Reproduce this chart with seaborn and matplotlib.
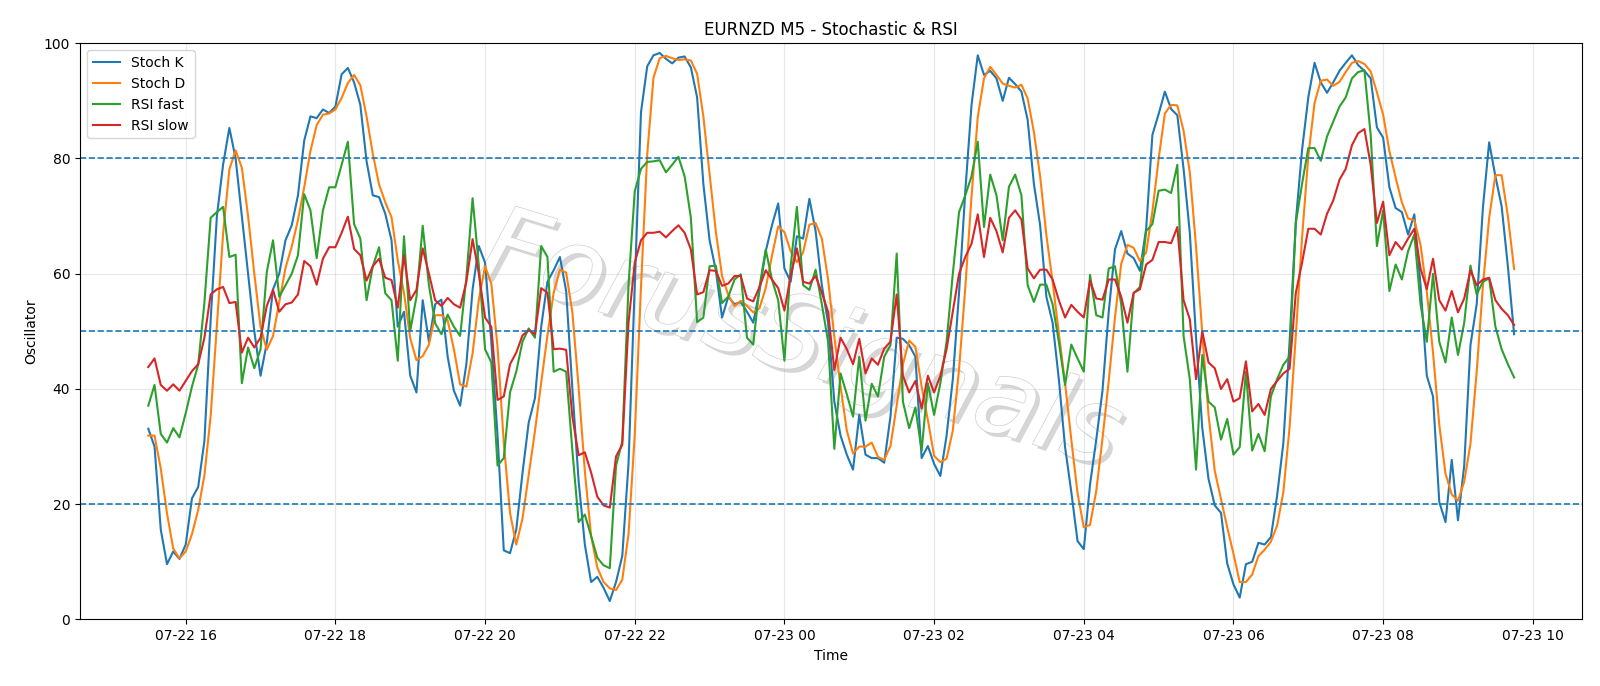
import pandas as pd
import matplotlib
matplotlib.use('Agg')
import matplotlib.pyplot as plt
import matplotlib.dates as mdates
import matplotlib.patheffects as pe
import seaborn as sns

# 5-minute bars, 07-22 15:30 .. 07-23 09:45
stoch_k = [33.1, 30.0, 15.6, 9.6, 11.8, 10.5, 13.0, 21.0, 23.0, 31.0,
           52.0, 70.0, 79.0, 85.3, 80.0, 70.0, 60.0, 50.0, 42.3, 48.0,
           57.3, 60.0, 65.8, 68.4, 73.6, 83.1, 87.3, 87.0, 88.5, 87.9,
           89.0, 94.6, 95.7, 93.2, 89.3, 79.5, 73.6, 73.3, 70.4, 65.8,
           50.8, 53.4, 42.3, 39.4, 55.4, 48.2, 54.7, 55.5, 45.6, 39.7,
           37.1, 44.3, 57.3, 64.8, 61.9, 48.2, 31.9, 12.0, 11.5, 15.6,
           25.4, 34.2, 38.4, 50.8, 58.6, 60.6, 62.9, 57.0, 40.0, 24.0,
           13.0, 6.5, 7.4, 5.5, 3.2, 6.5, 11.0, 27.0, 58.0, 88.0,
           96.0, 97.9, 98.3, 97.3, 96.5, 97.5, 97.7, 95.8, 90.6, 75.6,
           65.8, 60.6, 52.4, 56.0, 54.7, 55.1, 53.4, 51.5, 57.0, 63.9,
           68.4, 72.2, 60.9, 58.6, 66.5, 66.1, 73.0, 67.4, 58.0, 51.5,
           37.8, 31.9, 28.6, 26.0, 35.5, 28.6, 28.0, 28.0, 27.2, 35.2,
           48.9, 48.7, 47.6, 45.6, 28.0, 30.1, 27.0, 24.9, 31.9, 41.7,
           56.7, 74.3, 89.3, 97.9, 94.5, 95.2, 93.9, 90.0, 94.0, 92.9,
           91.6, 86.7, 75.6, 68.4, 56.0, 51.5, 41.7, 29.9, 22.1, 13.6,
           12.2, 23.4, 31.2, 39.7, 53.4, 64.2, 67.4, 63.5, 62.7, 60.5,
           67.8, 84.1, 87.7, 91.6, 88.6, 87.5, 78.2, 67.1, 48.9, 33.2,
           24.4, 19.8, 18.5, 9.7, 6.1, 3.8, 9.6, 10.0, 13.3, 13.0,
           14.3, 21.5, 30.6, 48.2, 69.1, 81.5, 90.6, 96.6, 93.2, 91.4,
           93.2, 95.2, 96.6, 97.9, 96.2, 95.2, 93.9, 85.4, 83.6, 75.0,
           71.4, 70.7, 66.8, 70.3, 58.0, 42.3, 38.7, 20.4, 16.9, 27.7,
           17.2, 26.7, 47.6, 54.7, 71.5, 82.8, 76.9, 71.7, 61.3, 49.5]

stoch_d = [31.9, 31.9, 26.2, 18.4, 12.3, 10.6, 11.8, 14.8, 19.0, 25.0,
           35.3, 51.0, 67.0, 78.1, 81.4, 78.4, 70.0, 60.0, 50.8, 46.8,
           49.2, 55.1, 61.0, 64.7, 69.3, 75.0, 81.3, 85.8, 87.6, 87.8,
           88.5, 90.5, 93.1, 94.5, 92.7, 87.3, 80.8, 75.5, 72.4, 69.8,
           62.3, 56.7, 48.8, 45.0, 45.7, 47.7, 52.8, 52.8, 51.9, 46.9,
           40.8, 40.4, 46.2, 55.5, 61.3, 58.3, 47.3, 30.7, 18.5, 13.0,
           17.5, 25.1, 32.7, 41.1, 49.3, 56.7, 60.7, 60.2, 53.3, 40.3,
           25.7, 14.5, 9.0, 6.5, 5.4, 5.1, 6.9, 14.8, 32.0, 57.7,
           80.7, 94.0, 97.4, 97.8, 97.4, 97.1, 97.2, 97.0, 94.7, 87.3,
           77.3, 67.3, 59.6, 56.3, 54.4, 55.3, 54.4, 53.3, 54.0, 57.5,
           63.1, 68.2, 67.2, 63.9, 62.0, 63.7, 68.5, 68.8, 66.1, 59.0,
           49.1, 40.4, 32.8, 28.8, 30.0, 30.0, 30.7, 28.2, 27.7, 30.1,
           37.1, 44.3, 48.4, 47.3, 40.4, 34.6, 28.4, 27.3, 27.9, 32.8,
           43.4, 57.6, 73.4, 87.2, 93.9, 95.9, 94.5, 93.0, 92.6, 92.3,
           92.8, 90.4, 84.6, 76.9, 66.7, 58.6, 49.7, 41.0, 31.2, 21.9,
           16.0, 16.4, 22.3, 31.4, 41.4, 52.4, 61.7, 65.0, 64.5, 62.2,
           63.7, 70.8, 79.9, 87.8, 89.3, 89.2, 84.8, 77.6, 64.7, 49.7,
           35.5, 25.8, 20.9, 16.0, 11.4, 6.5, 6.5, 7.8, 11.0, 12.1,
           13.5, 16.3, 22.1, 33.4, 49.3, 66.3, 80.4, 89.6, 93.5, 93.7,
           92.6, 93.3, 95.0, 96.6, 96.9, 96.4, 95.1, 91.5, 87.6, 81.3,
           76.7, 72.4, 69.6, 69.3, 65.0, 56.9, 46.3, 33.8, 25.3, 21.7,
           20.6, 23.9, 30.5, 43.0, 57.9, 69.7, 77.1, 77.1, 70.0, 60.8]

rsi_fast = [37.1, 40.7, 32.2, 30.7, 33.2, 31.6, 35.8, 40.4, 44.2, 55.0,
            69.7, 70.7, 71.6, 62.9, 63.3, 41.0, 47.2, 43.6, 46.9, 60.3,
            65.8, 56.0, 58.0, 60.0, 63.2, 73.8, 71.0, 62.7, 71.0, 75.0,
            75.0, 78.9, 82.9, 68.6, 66.1, 55.4, 61.3, 64.6, 56.6, 55.4,
            44.9, 66.5, 50.1, 56.0, 68.3, 58.0, 51.4, 49.5, 52.9, 50.8,
            49.2, 59.3, 73.1, 61.3, 46.9, 44.6, 26.7, 28.0, 39.4, 43.0,
            48.2, 50.5, 48.9, 64.8, 62.9, 43.0, 43.5, 43.0, 29.3, 16.9,
            18.2, 14.5, 10.7, 9.4, 8.9, 26.7, 30.9, 58.0, 74.3, 78.2,
            79.4, 79.5, 79.7, 77.6, 78.9, 80.3, 76.9, 69.7, 51.6, 52.4,
            61.3, 61.4, 54.9, 56.0, 59.0, 59.9, 48.9, 47.7, 57.7, 64.2,
            59.0, 55.4, 44.9, 61.3, 71.6, 58.0, 57.2, 60.7, 54.7, 48.2,
            29.6, 42.7, 39.1, 35.2, 45.6, 34.5, 40.9, 38.7, 45.6, 47.6,
            63.5, 37.8, 33.2, 36.8, 29.3, 41.0, 35.5, 41.0, 48.2, 60.0,
            70.7, 73.6, 76.9, 82.9, 68.1, 77.2, 73.6, 65.8, 75.1, 77.2,
            73.6, 58.0, 55.1, 58.1, 58.1, 54.7, 48.2, 40.7, 47.7, 45.3,
            43.0, 59.8, 52.8, 52.4, 60.9, 61.3, 54.7, 43.0, 56.6, 57.7,
            67.4, 68.6, 74.4, 74.6, 74.0, 78.9, 49.2, 41.7, 26.0, 45.9,
            37.8, 36.8, 31.2, 34.8, 28.6, 29.9, 43.0, 29.3, 32.2, 29.2,
            38.7, 41.7, 44.2, 45.6, 68.8, 75.6, 81.8, 81.8, 79.6, 83.8,
            86.4, 89.0, 90.6, 93.9, 95.0, 95.3, 84.1, 64.8, 71.0, 57.0,
            61.6, 59.0, 63.9, 66.8, 54.7, 48.2, 60.0, 48.2, 44.6, 52.4,
            45.9, 51.5, 61.4, 56.4, 58.6, 59.2, 50.8, 46.9, 44.3, 42.0]

rsi_slow = [43.8, 45.3, 40.7, 39.7, 40.8, 39.7, 41.4, 43.1, 44.3, 48.9,
            56.4, 57.3, 57.7, 54.9, 55.1, 46.3, 48.9, 47.2, 48.9, 54.4,
            57.2, 53.4, 54.7, 55.0, 56.4, 62.2, 61.3, 58.1, 62.6, 64.6,
            64.6, 67.1, 69.9, 64.3, 63.2, 58.8, 61.3, 62.6, 59.3, 58.9,
            54.1, 63.2, 55.4, 57.2, 64.4, 60.0, 55.4, 54.4, 55.8, 54.7,
            54.1, 58.6, 66.0, 60.0, 52.4, 50.8, 38.1, 38.7, 44.3, 46.3,
            49.3, 50.2, 49.5, 57.5, 56.7, 46.9, 47.0, 46.8, 35.2, 28.5,
            29.0, 25.5, 21.3, 19.8, 19.4, 28.3, 30.3, 51.5, 61.9, 65.8,
            67.1, 67.1, 67.3, 66.3, 67.4, 68.4, 67.1, 64.2, 56.4, 56.8,
            60.6, 60.5, 57.9, 58.3, 59.6, 59.6, 55.7, 55.2, 57.7, 60.6,
            59.0, 57.5, 53.6, 59.6, 64.4, 58.6, 58.3, 59.6, 56.7, 53.4,
            43.3, 48.9, 46.9, 44.3, 48.7, 42.7, 45.3, 44.2, 47.0, 48.2,
            56.4, 42.3, 39.4, 41.4, 36.6, 42.3, 39.4, 42.3, 46.9, 53.4,
            60.0, 62.9, 65.2, 70.3, 62.9, 69.7, 67.4, 63.7, 69.7, 71.0,
            69.4, 60.9, 59.2, 60.7, 60.7, 59.0, 55.4, 52.4, 54.6, 53.4,
            52.4, 58.8, 55.7, 55.5, 59.0, 59.0, 56.0, 51.5, 56.7, 57.3,
            61.6, 62.4, 65.5, 65.5, 65.3, 68.1, 55.4, 52.1, 41.7, 50.0,
            44.6, 43.6, 40.0, 41.7, 37.8, 38.4, 44.8, 36.1, 37.4, 35.5,
            40.0, 41.4, 42.7, 43.5, 56.7, 61.9, 67.8, 67.8, 66.8, 70.4,
            72.7, 76.3, 78.2, 82.3, 84.4, 85.1, 78.9, 68.8, 72.5, 63.2,
            65.5, 64.2, 66.1, 67.8, 60.9, 57.3, 62.6, 55.4, 53.6, 57.0,
            53.3, 55.7, 60.6, 58.0, 59.0, 59.3, 55.4, 53.9, 52.8, 51.1]

levels = [20, 50, 80]
times = pd.date_range('2024-07-22 15:30', periods=len(stoch_k), freq='5min')

fig, ax = plt.subplots(figsize=(16, 6.86), dpi=100)
fig.subplots_adjust(left=0.05, right=0.989, top=0.937, bottom=0.097)

# watermark
ax.text(0.48, 0.48, 'ForusSignals', transform=ax.transAxes, ha='center', va='center',
        fontsize=75, rotation=-17, style='italic', fontweight='light', color='white', zorder=0,
        path_effects=[pe.withSimplePatchShadow(offset=(3, -3), shadow_rgbFace='#9a9a9a', alpha=0.4),
                      pe.Stroke(linewidth=1.0, foreground='#cfcfcf'), pe.Normal()])

sns.lineplot(x=times, y=stoch_k, ax=ax, color='C0', label='Stoch K', linewidth=1.5)
sns.lineplot(x=times, y=stoch_d, ax=ax, color='C1', label='Stoch D', linewidth=1.5)
sns.lineplot(x=times, y=rsi_fast, ax=ax, color='C2', label='RSI fast', linewidth=1.5)
sns.lineplot(x=times, y=rsi_slow, ax=ax, color='C3', label='RSI slow', linewidth=1.5)

for lv in levels:
    ax.axhline(lv, color='C0', linestyle='--', linewidth=1.2)

ax.set_ylim(0, 100)
ax.xaxis.set_major_locator(mdates.HourLocator(byhour=range(0, 24, 2)))
ax.xaxis.set_major_formatter(mdates.DateFormatter('%m-%d %H'))
ax.grid(True, alpha=0.3)
ax.set_title('EURNZD M5 - Stochastic & RSI')
ax.set_xlabel('Time')
ax.set_ylabel('Oscillator')
ax.legend(loc='upper left')

fig.savefig('out.png', dpi=100)
